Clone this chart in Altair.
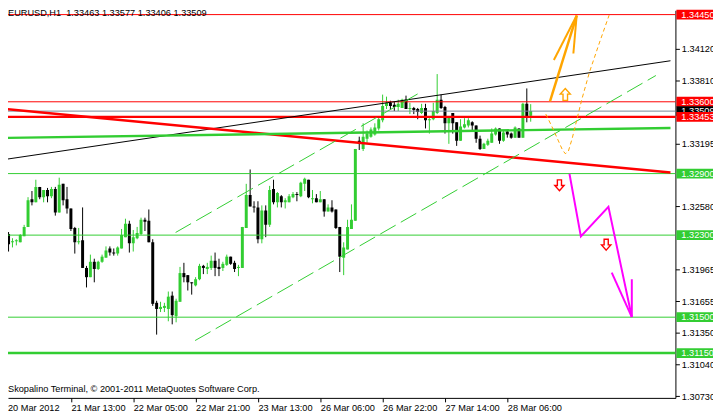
import json
import altair as alt
import pandas as pd

# ---------------- data (EURUSD H1, bar index 0 = 20 Mar 2012 21:00) ----------------
opens = [
    1.3231, 1.3223, 1.3224, 1.3223, 1.3229, 1.3238, 1.3265, 1.3262, 1.3277, 1.3267,
    1.3274, 1.3268, 1.3275, 1.3252, 1.3280, 1.3265, 1.3256, 1.3237, 1.3223, 1.3225,
    1.3198, 1.3189, 1.3204, 1.3197, 1.3204, 1.3208, 1.3217, 1.3213, 1.3212, 1.3217,
    1.3228, 1.3241, 1.3222, 1.3227, 1.3231, 1.3245, 1.3244, 1.3223, 1.3164, 1.3158,
    1.3159, 1.3158, 1.3171, 1.3151, 1.3165, 1.3193, 1.3191, 1.3184, 1.3181, 1.3187,
    1.3200, 1.3197, 1.3198, 1.3205, 1.3199, 1.3198, 1.3201, 1.3209, 1.3203, 1.3198,
    1.3198, 1.3237, 1.3269, 1.3258, 1.3257, 1.3226, 1.3254, 1.3240, 1.3275, 1.3262,
    1.3268, 1.3262, 1.3262, 1.3267, 1.3270, 1.3268, 1.3280, 1.3284, 1.3265, 1.3266,
    1.3262, 1.3265, 1.3253, 1.3257, 1.3255, 1.3238, 1.3208, 1.3216, 1.3236, 1.3244,
    1.3322, 1.3314, 1.3324, 1.3326, 1.3328, 1.3334, 1.3342, 1.3356, 1.3359, 1.3357,
    1.3355, 1.3354, 1.3362, 1.3353, 1.3354, 1.3353, 1.3349, 1.3354, 1.3342, 1.3343,
    1.3349, 1.3362, 1.3355, 1.3339, 1.3349, 1.3340, 1.3322, 1.3335, 1.3337, 1.3340,
    1.3337, 1.3324, 1.3314, 1.3318, 1.3320, 1.3328, 1.3334, 1.3322, 1.3331, 1.3329,
    1.3325, 1.3334, 1.3325, 1.3358, 1.33463,
]
highs = [
    1.3233, 1.3227, 1.3226, 1.3231, 1.3240, 1.3267, 1.3273, 1.3284, 1.3277, 1.3274,
    1.3276, 1.3277, 1.3277, 1.3286, 1.3280, 1.3277, 1.3256, 1.3238, 1.3237, 1.3257,
    1.3200, 1.3211, 1.3207, 1.3205, 1.3211, 1.3219, 1.3219, 1.3217, 1.3219, 1.3236,
    1.3246, 1.3244, 1.3235, 1.3238, 1.3247, 1.3247, 1.3255, 1.3226, 1.3166, 1.3165,
    1.3164, 1.3175, 1.3175, 1.3168, 1.3199, 1.3203, 1.3191, 1.3184, 1.3189, 1.3202,
    1.3201, 1.3203, 1.3210, 1.3213, 1.3207, 1.3204, 1.3211, 1.3209, 1.3205, 1.3201,
    1.3238, 1.3280, 1.3294, 1.3263, 1.3263, 1.3259, 1.3259, 1.3278, 1.3284, 1.3272,
    1.3269, 1.3266, 1.3270, 1.3272, 1.3272, 1.3282, 1.3286, 1.3284, 1.3274, 1.3270,
    1.3273, 1.3265, 1.3260, 1.3264, 1.3255, 1.3238, 1.3223, 1.3245, 1.3260, 1.3314,
    1.3326, 1.3339, 1.3332, 1.3335, 1.3339, 1.3345, 1.3367, 1.3365, 1.3361, 1.3360,
    1.3362, 1.3363, 1.3366, 1.3359, 1.3355, 1.3354, 1.3358, 1.3358, 1.3344, 1.3359,
    1.3387, 1.3367, 1.3356, 1.3346, 1.3349, 1.3340, 1.3343, 1.3344, 1.3344, 1.3341,
    1.3337, 1.3327, 1.3320, 1.3324, 1.3334, 1.3335, 1.3334, 1.3332, 1.3333, 1.3330,
    1.3336, 1.3334, 1.3359, 1.3373, 1.33577,
]
lows = [
    1.3214, 1.3218, 1.3220, 1.3223, 1.3229, 1.3238, 1.3259, 1.3262, 1.3265, 1.3262,
    1.3262, 1.3266, 1.3249, 1.3252, 1.3259, 1.3251, 1.3234, 1.3212, 1.3221, 1.3198,
    1.3179, 1.3189, 1.3184, 1.3196, 1.3203, 1.3208, 1.3210, 1.3210, 1.3210, 1.3217,
    1.3228, 1.3213, 1.3214, 1.3226, 1.3230, 1.3234, 1.3223, 1.3161, 1.3133, 1.3155,
    1.3155, 1.3146, 1.3143, 1.3145, 1.3165, 1.3184, 1.3176, 1.3172, 1.3180, 1.3186,
    1.3192, 1.3192, 1.3196, 1.3190, 1.3190, 1.3195, 1.3200, 1.3201, 1.3194, 1.3190,
    1.3198, 1.3237, 1.3258, 1.3252, 1.3222, 1.3222, 1.3228, 1.3238, 1.3260, 1.3257,
    1.3257, 1.3256, 1.3262, 1.3266, 1.3263, 1.3267, 1.3273, 1.3266, 1.3261, 1.3262,
    1.3262, 1.3248, 1.3253, 1.3252, 1.3236, 1.3194, 1.3191, 1.3216, 1.3236, 1.3244,
    1.3313, 1.3312, 1.3320, 1.3325, 1.3327, 1.3332, 1.3340, 1.3353, 1.3353, 1.3351,
    1.3351, 1.3354, 1.3353, 1.3348, 1.3348, 1.3343, 1.3348, 1.3334, 1.3329, 1.3342,
    1.3348, 1.3353, 1.3329, 1.3319, 1.3329, 1.3317, 1.3322, 1.3334, 1.3335, 1.3332,
    1.3320, 1.3313, 1.3314, 1.3317, 1.3320, 1.3327, 1.3319, 1.3321, 1.3325, 1.3324,
    1.3325, 1.3325, 1.3325, 1.3340, 1.33406,
]
closes = [
    1.3221, 1.3224, 1.3225, 1.3230, 1.3238, 1.3264, 1.3262, 1.3277, 1.3267, 1.3274,
    1.3268, 1.3275, 1.3252, 1.3279, 1.3264, 1.3256, 1.3236, 1.3223, 1.3224, 1.3198,
    1.3189, 1.3204, 1.3197, 1.3204, 1.3209, 1.3215, 1.3213, 1.3212, 1.3218, 1.3230,
    1.3241, 1.3222, 1.3228, 1.3232, 1.3245, 1.3243, 1.3223, 1.3163, 1.3158, 1.3160,
    1.3161, 1.3170, 1.3152, 1.3166, 1.3193, 1.3189, 1.3184, 1.3183, 1.3187, 1.3200,
    1.3198, 1.3199, 1.3205, 1.3198, 1.3197, 1.3202, 1.3209, 1.3202, 1.3197, 1.3199,
    1.3238, 1.3269, 1.3258, 1.3257, 1.3226, 1.3254, 1.3240, 1.3274, 1.3262, 1.3271,
    1.3262, 1.3264, 1.3268, 1.3270, 1.3269, 1.3281, 1.3285, 1.3267, 1.3266, 1.3262,
    1.3265, 1.3253, 1.3257, 1.3253, 1.3237, 1.3209, 1.3218, 1.3238, 1.3245, 1.3314,
    1.3319, 1.3326, 1.3329, 1.3333, 1.3335, 1.3343, 1.3356, 1.3359, 1.3356, 1.3355,
    1.3358, 1.3362, 1.3353, 1.3354, 1.3352, 1.3350, 1.3354, 1.3342, 1.3343, 1.3351,
    1.3362, 1.3354, 1.3339, 1.3345, 1.3339, 1.3322, 1.3336, 1.3338, 1.3342, 1.3337,
    1.3324, 1.3314, 1.3319, 1.3322, 1.3329, 1.3334, 1.3322, 1.3330, 1.3328, 1.3325,
    1.3335, 1.3325, 1.3358, 1.3346, 1.33509,
]

first_time_label = "20 Mar 2012"
time_ticks = [16, 32, 48, 64, 80, 96, 112, 128]
time_labels = ["21 Mar 13:00", "22 Mar 05:00", "22 Mar 21:00", "23 Mar 13:00",
               "26 Mar 06:00", "26 Mar 22:00", "27 Mar 14:00", "28 Mar 06:00"]

price_ticks = [1.34120, 1.33810, 1.33195, 1.32580,
               1.31965, 1.31655, 1.31350, 1.31040, 1.30730]

header_text = "EURUSD,H1\u00a0 1.33463 1.33577 1.33406 1.33509"
footer_text = "Skopalino Terminal, \u00a9 2001-2011 MetaQuotes Software Corp."

# horizontal levels
level_prices = [1.34450, 1.33600, 1.33509, 1.33453, 1.32900, 1.32300, 1.31500, 1.31150]
level_colors = ["#FF0000", "#FF0000", "#778899", "#FF0000", "#32CD32", "#32CD32", "#32CD32", "#32CD32"]
level_widths = [1, 1, 1, 2.5, 1, 1, 1, 2.5]
box_colors = ["#FF0000", "#FF0000", "#000000", "#FF0000", "#32CD32", "#32CD32", "#32CD32", "#32CD32"]
box_labels = ["1.34450", "1.33600", "1.33509", "1.33453", "1.32900", "1.32300", "1.31500", "1.31150"]

# trend lines (bar index, price)
black_bars, black_prices = [-0.375, 169.875], [1.33041, 1.34000]
red_bars, red_prices = [-0.375, 169.875], [1.33528, 1.32911]
green_bars, green_prices = [-0.375, 169.875], [1.33248, 1.33345]
chan_up_bars, chan_up_prices = [42.875, 106.125], [1.32326, 1.33701]
chan_lo_bars, chan_lo_prices = [47.875, 166.125], [1.31272, 1.33856]

# forecast drawings
orange_bars, orange_prices = [138.95, 145.8], [1.33605, 1.34441]
orange_h1_bars, orange_h1_prices = [139.95, 145.8], [1.34007, 1.34441]
orange_h2_bars, orange_h2_prices = [144.95, 145.8], [1.34071, 1.34441]
odash_bars = [137.875, 139.375, 140.875, 142.125, 142.875, 143.625, 144.625,
              145.875, 147.125, 149.125, 151.625, 154.125]
odash_prices = [1.33480, 1.33364, 1.33239, 1.33133, 1.33094, 1.33113, 1.33239,
                1.33431, 1.33624, 1.33894, 1.34174, 1.34444]
mag_bars, mag_prices = [143.95, 146.875, 153.95, 159.95], [1.32898, 1.32287, 1.32576, 1.31501]
mag_h1_bars, mag_h1_prices = [154.8, 159.95], [1.31934, 1.31501]
mag_h2_bars, mag_h2_prices = [159.95, 159.95], [1.31870, 1.31501]

up_arrow_bars, up_arrow_prices = [142.875], [1.33672]
down_arrow_bars, down_arrow_prices = [141.375, 153.375], [1.32786, 1.32207]

# ---------------- chart ----------------
FONT = "Liberation Sans"
FS = 9.3
W, H = 675, 392
GREEN = "#32CD32"

xsc = alt.Scale(domain=[1.125, 169.875], nice=False, zero=False)
ysc = alt.Scale(domain=[1.30713, 1.34492], nice=False, zero=False)

label_map = {str(t): l for t, l in zip(time_ticks, time_labels)}
x_axis = alt.Axis(values=time_ticks, labelExpr=json.dumps(label_map) + "[datum.value]",
                  title=None, orient="bottom", tickSize=4, labelAlign="left",
                  labelBaseline="top", labelPadding=2, domainColor="black",
                  tickColor="black", labelColor="black", labelFont=FONT,
                  labelFontSize=FS, grid=False, labelOverlap=False, labelFlush=False,
                  zindex=0)
y_axis = alt.Axis(orient="right", values=price_ticks, format=".5f", title=None,
                  tickSize=4, labelPadding=2, labelAlign="left", labelBaseline="middle",
                  domainColor="black", tickColor="black", labelColor="black",
                  labelFont=FONT, labelFontSize=FS, grid=False, labelOverlap=False,
                  labelFlush=False, zindex=0)


def X(field):
    return alt.X(field, scale=xsc, axis=x_axis)


def Y(field):
    return alt.Y(field, scale=ysc, axis=y_axis)


cdf = pd.DataFrame({"bar": list(range(len(opens))), "open": opens, "high": highs,
                    "low": lows, "close": closes})
cdf["col"] = [GREEN if c >= o else "#000000" for o, c in zip(opens, closes)]

wicks = alt.Chart(cdf).mark_rule(strokeWidth=1, clip=True).encode(
    x=X("bar:Q"), y=Y("low:Q"), y2="high:Q",
    color=alt.Color("col:N", scale=None),
)
bodies = alt.Chart(cdf).mark_bar(size=3, clip=True).encode(
    x=X("bar:Q"), y=Y("open:Q"), y2="close:Q",
    color=alt.Color("col:N", scale=None),
)


def path_layer(bars, prices, color, width, dash=None):
    df = pd.DataFrame({"bar": bars, "price": prices, "k": list(range(len(bars)))})
    props = dict(color=color, strokeWidth=width, clip=True)
    if dash:
        props["strokeDash"] = dash
    return alt.Chart(df).mark_line(**props).encode(
        x=X("bar:Q"), y=Y("price:Q"), order="k:Q",
    )


ldf = pd.DataFrame({"price": level_prices, "col": level_colors, "w": level_widths})
levels = alt.Chart(ldf).mark_rule().encode(
    y=Y("price:Q"),
    color=alt.Color("col:N", scale=None),
    strokeWidth=alt.StrokeWidth("w:Q", scale=None),
)

UP = "M0,-1L0.85,-0.05L0.38,-0.05L0.38,1L-0.38,1L-0.38,-0.05L-0.85,-0.05Z"
DOWN = "M0,1L0.85,0.05L0.38,0.05L0.38,-1L-0.38,-1L-0.38,0.05L-0.85,0.05Z"


def arrow_layer(bars, prices, shape, stroke, size):
    df = pd.DataFrame({"bar": bars, "price": prices})
    return alt.Chart(df).mark_point(shape=shape, size=size, filled=True, fill="white",
                                    stroke=stroke, strokeWidth=1.4, opacity=1).encode(
        x=X("bar:Q"), y=Y("price:Q"),
    )


bdf = pd.DataFrame({"price": level_prices, "col": box_colors, "label": box_labels})


def box_layers(df):
    box = alt.Chart(df).mark_tick(orient="horizontal", thickness=10, size=42,
                                  opacity=1).encode(
        x=alt.value(697), y=Y("price:Q"),
        color=alt.Color("col:N", scale=None),
    )
    txt = alt.Chart(df).mark_text(align="left", baseline="middle", color="white",
                                  font=FONT, fontSize=FS).encode(
        x=alt.value(681), y=Y("price:Q"), text="label:N",
    )
    return [box, txt]


first_lab = alt.Chart(pd.DataFrame({"t": [first_time_label]})).mark_text(
    align="left", baseline="top", font=FONT, fontSize=FS, color="black").encode(
    x=alt.value(0), y=alt.value(H + 6), text="t:N")
header = alt.Chart(pd.DataFrame({"t": [header_text]})).mark_text(
    align="left", baseline="alphabetic", font=FONT, fontSize=FS, color="black").encode(
    x=alt.value(0), y=alt.value(6), text="t:N")
footer = alt.Chart(pd.DataFrame({"t": [footer_text]})).mark_text(
    align="left", baseline="alphabetic", font=FONT, fontSize=FS, color="black").encode(
    x=alt.value(0), y=alt.value(386), text="t:N")

layers = [
    wicks, bodies,
    levels,
    path_layer(black_bars, black_prices, "black", 1),
    path_layer(red_bars, red_prices, "#FF0000", 2.5),
    path_layer(green_bars, green_prices, GREEN, 2.5),
    path_layer(chan_up_bars, chan_up_prices, GREEN, 1, [18, 6]),
    path_layer(chan_lo_bars, chan_lo_prices, GREEN, 1, [18, 6]),
    path_layer(odash_bars, odash_prices, "#FFA500", 1, [4, 3]),
    path_layer(orange_bars, orange_prices, "#FFA500", 2.5),
    path_layer(orange_h1_bars, orange_h1_prices, "#FFA500", 2),
    path_layer(orange_h2_bars, orange_h2_prices, "#FFA500", 2),
    path_layer(mag_bars, mag_prices, "#FF00FF", 2),
    path_layer(mag_h1_bars, mag_h1_prices, "#FF00FF", 2),
    path_layer(mag_h2_bars, mag_h2_prices, "#FF00FF", 2),
    arrow_layer(up_arrow_bars, up_arrow_prices, UP, "#FFA500", 144),
    arrow_layer(down_arrow_bars, down_arrow_prices, DOWN, "#FF0000", 121),
]
layers += box_layers(bdf[bdf["label"] != "1.33453"])
layers += box_layers(bdf[bdf["label"] == "1.33453"])
layers += [first_lab, header, footer]

chart = alt.layer(*layers).properties(
    width=W, height=H,
    padding={"left": 0, "top": 0, "right": 38, "bottom": 17},
    autosize=alt.AutoSizeParams(type="none"),
    background="white",
).configure_view(stroke=None)

chart.save("out.html", embed_options={"renderer": "svg", "actions": False})
